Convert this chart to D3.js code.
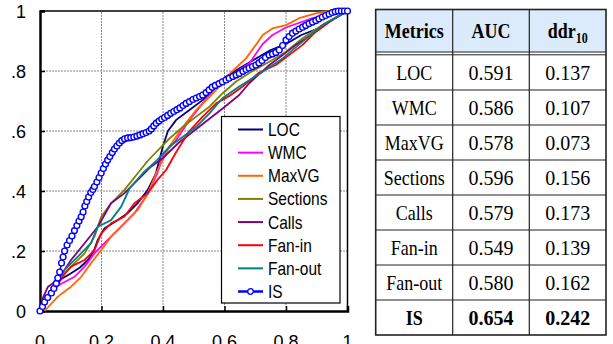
<!DOCTYPE html>
<html>
<head>
<meta charset="utf-8">
<script src="https://cdn.jsdelivr.net/npm/d3@7"></script>
<style>
  body { margin: 0; background: #fff; }
  svg { display: block; }
  .tick-label { font-family: "Liberation Sans", Arial, sans-serif; font-size: 18px; fill: #000; }
  .legend-text { font-family: "Liberation Sans", Arial, sans-serif; font-size: 15.5px; fill: #000; }
  .cell { font-family: "Liberation Serif", "Times New Roman", serif; font-size: 18px; fill: #000; }
</style>
</head>
<body>
<svg id="chart" width="613" height="344"></svg>
<script>
// tick labels
const xTicks = [0, 0.2, 0.4, 0.6, 0.8, 1];
const xTickLabels = ["0", "0.2", "0.4", "0.6", "0.8", "1"];
const yTicks = [0, 0.2, 0.4, 0.6, 0.8, 1];
const yTickLabels = ["0", ".2", ".4", ".6", ".8", "1"];

// series names and colours
const seriesNames = ["LOC", "WMC", "MaxVG", "Sections", "Calls", "Fan-in", "Fan-out", "IS"];
const seriesColors = ["#000080", "#ff00ff", "#ff6600", "#808000", "#800080", "#ff0000", "#008080", "#0000ff"];

// curves, [x, y]
const locPts = [[0,0],[0.032,0.059],[0.059,0.1],[0.101,0.126],[0.13,0.145],[0.156,0.17],[0.175,0.2],[0.188,0.237],[0.21,0.276],[0.253,0.303],[0.285,0.326],[0.318,0.36],[0.35,0.403],[0.377,0.459],[0.4,0.55],[0.416,0.6],[0.443,0.637],[0.486,0.67],[0.529,0.703],[0.573,0.748],[0.605,0.781],[0.65,0.81],[0.7,0.84],[0.75,0.87],[0.8,0.89],[0.85,0.92],[0.9,0.94],[0.95,0.97],[1,1]];
const wmcPts = [[0,0],[0.03,0.05],[0.058,0.085],[0.086,0.1],[0.112,0.114],[0.145,0.148],[0.177,0.192],[0.22,0.237],[0.264,0.281],[0.307,0.326],[0.35,0.39],[0.382,0.46],[0.4,0.52],[0.443,0.57],[0.486,0.637],[0.529,0.692],[0.573,0.748],[0.616,0.781],[0.681,0.826],[0.724,0.89],[0.756,0.92],[0.8,0.945],[0.886,0.976],[0.95,0.99],[1,1]];
const maxvgPts = [[0.015,0],[0.058,0.048],[0.101,0.081],[0.134,0.114],[0.166,0.159],[0.199,0.203],[0.231,0.248],[0.274,0.292],[0.318,0.337],[0.35,0.39],[0.378,0.46],[0.421,0.548],[0.465,0.614],[0.508,0.67],[0.551,0.714],[0.583,0.748],[0.616,0.79],[0.67,0.842],[0.702,0.887],[0.724,0.92],[0.756,0.942],[0.8,0.953],[0.843,0.976],[0.897,0.992],[0.94,1],[1,1]];
const sectionsPts = [[0,0],[0.03,0.06],[0.065,0.105],[0.101,0.148],[0.145,0.192],[0.177,0.248],[0.199,0.314],[0.231,0.359],[0.274,0.403],[0.318,0.459],[0.35,0.5],[0.378,0.53],[0.421,0.575],[0.465,0.614],[0.508,0.648],[0.551,0.681],[0.594,0.726],[0.638,0.765],[0.691,0.8],[0.746,0.831],[0.8,0.864],[0.854,0.909],[0.918,0.953],[1,1]];
const callsPts = [[0,0],[0.011,0.048],[0.026,0.081],[0.058,0.103],[0.101,0.17],[0.145,0.226],[0.188,0.281],[0.231,0.359],[0.274,0.392],[0.318,0.437],[0.361,0.481],[0.4,0.51],[0.45,0.56],[0.5,0.6],[0.55,0.64],[0.6,0.68],[0.648,0.72],[0.681,0.76],[0.746,0.82],[0.789,0.853],[0.832,0.887],[0.897,0.931],[0.95,0.97],[1,1]];
const faninPts = [[0,0],[0.022,0.037],[0.054,0.081],[0.08,0.125],[0.101,0.148],[0.145,0.17],[0.177,0.203],[0.199,0.259],[0.231,0.292],[0.274,0.314],[0.307,0.359],[0.35,0.392],[0.382,0.437],[0.41,0.47],[0.443,0.53],[0.486,0.6],[0.529,0.648],[0.573,0.692],[0.616,0.717],[0.659,0.748],[0.713,0.795],[0.767,0.82],[0.81,0.853],[0.854,0.887],[0.897,0.931],[0.94,0.964],[1,1]];
const fanoutPts = [[0,0],[0.03,0.06],[0.055,0.1],[0.08,0.137],[0.123,0.181],[0.166,0.226],[0.188,0.281],[0.231,0.303],[0.264,0.348],[0.292,0.41],[0.335,0.46],[0.378,0.5],[0.421,0.548],[0.465,0.581],[0.508,0.614],[0.551,0.659],[0.594,0.71],[0.648,0.748],[0.713,0.79],[0.789,0.842],[0.854,0.898],[0.918,0.953],[1,1]];
const isPts = [[0,0],[0.008,0.015],[0.015,0.03],[0.025,0.045],[0.037,0.06],[0.045,0.075],[0.053,0.092],[0.058,0.11],[0.064,0.13],[0.07,0.16],[0.075,0.18],[0.08,0.2],[0.088,0.22],[0.096,0.235],[0.104,0.25],[0.112,0.268],[0.12,0.285],[0.127,0.3],[0.134,0.314],[0.14,0.33],[0.146,0.35],[0.152,0.365],[0.158,0.38],[0.165,0.395],[0.172,0.405],[0.177,0.415],[0.185,0.43],[0.192,0.445],[0.199,0.46],[0.206,0.475],[0.213,0.49],[0.22,0.503],[0.227,0.515],[0.235,0.528],[0.242,0.54],[0.25,0.55],[0.258,0.56],[0.266,0.568],[0.275,0.574],[0.285,0.577],[0.295,0.578],[0.305,0.58],[0.315,0.583],[0.325,0.587],[0.335,0.591],[0.345,0.595],[0.355,0.6],[0.362,0.607],[0.37,0.617],[0.378,0.626],[0.387,0.633],[0.396,0.64],[0.405,0.645],[0.415,0.652],[0.425,0.659],[0.435,0.665],[0.445,0.671],[0.455,0.677],[0.465,0.685],[0.475,0.692],[0.486,0.698],[0.497,0.705],[0.508,0.71],[0.519,0.715],[0.529,0.72],[0.54,0.728],[0.55,0.737],[0.56,0.746],[0.57,0.752],[0.582,0.758],[0.593,0.764],[0.605,0.77],[0.615,0.776],[0.627,0.782],[0.638,0.787],[0.648,0.792],[0.66,0.799],[0.67,0.805],[0.68,0.81],[0.691,0.815],[0.702,0.82],[0.712,0.827],[0.722,0.835],[0.733,0.845],[0.745,0.853],[0.756,0.857],[0.767,0.862],[0.778,0.87],[0.789,0.885],[0.8,0.903],[0.81,0.915],[0.821,0.926],[0.832,0.933],[0.843,0.94],[0.854,0.946],[0.864,0.952],[0.875,0.958],[0.886,0.963],[0.897,0.968],[0.907,0.974],[0.918,0.98],[0.929,0.985],[0.94,0.99],[0.95,0.995],[0.96,0.998],[0.97,1],[0.98,1],[0.99,1],[1,1]];

// table values
const tableHeader = ["Metrics", "AUC", "ddr"];
const aucValues = ["0.591", "0.586", "0.578", "0.596", "0.579", "0.549", "0.580", "0.654"];
const ddrValues = ["0.137", "0.107", "0.073", "0.156", "0.173", "0.139", "0.162", "0.242"];

const curves = [locPts, wmcPts, maxvgPts, sectionsPts, callsPts, faninPts, fanoutPts];

const svg = d3.select("#chart");

const x = d3.scaleLinear().domain([0, 1]).range([40, 347.5]);
const y = d3.scaleLinear().domain([0, 1]).range([311, 11]);

const plot = svg.append("g");

// grid
plot.selectAll(".vgrid")
  .data(xTicks.slice(1, -1))
  .join("line")
  .attr("x1", d => x(d)).attr("x2", d => x(d))
  .attr("y1", y(0)).attr("y2", y(1))
  .attr("stroke", "#888").attr("stroke-dasharray", "2,1");

plot.selectAll(".hgrid")
  .data(yTicks.slice(1, -1))
  .join("line")
  .attr("x1", x(0)).attr("x2", x(1))
  .attr("y1", d => y(d)).attr("y2", d => y(d))
  .attr("stroke", "#888").attr("stroke-dasharray", "2,1");

// frame top/right
plot.append("line").attr("x1", x(0)).attr("x2", x(1)).attr("y1", y(1)).attr("y2", y(1))
  .attr("stroke", "#000").attr("stroke-width", 1.5);
plot.append("line").attr("x1", x(1)).attr("x2", x(1)).attr("y1", y(0)).attr("y2", y(1))
  .attr("stroke", "#000").attr("stroke-width", 1.5);

// axes
const yAxis = plot.append("g")
  .attr("transform", "translate(" + x(0) + ",0)")
  .call(d3.axisRight(y).tickValues(yTicks).tickSize(5).tickFormat(""));
const xAxis = plot.append("g")
  .attr("transform", "translate(0," + y(0) + ")")
  .call(d3.axisTop(x).tickValues(xTicks).tickSize(5).tickFormat(""));
[yAxis, xAxis].forEach(a => {
  a.select(".domain").attr("stroke", "#000").attr("stroke-width", 2.5);
  a.selectAll(".tick line").attr("stroke", "#000").attr("stroke-width", 1.5);
});

plot.selectAll(".ylab")
  .data(yTicks)
  .join("text")
  .attr("class", "tick-label")
  .attr("x", 26)
  .attr("y", d => y(d) + 6.5)
  .attr("text-anchor", "end")
  .text((d, i) => yTickLabels[i]);

plot.selectAll(".xlab")
  .data(xTicks)
  .join("text")
  .attr("class", "tick-label")
  .attr("x", d => x(d))
  .attr("y", 348)
  .attr("text-anchor", "middle")
  .text((d, i) => xTickLabels[i]);

// curves
const line = d3.line().x(d => x(d[0])).y(d => y(d[1]));

plot.selectAll(".curve")
  .data(curves)
  .join("path")
  .attr("class", "curve")
  .attr("d", line)
  .attr("fill", "none")
  .attr("stroke", (d, i) => seriesColors[i])
  .attr("stroke-width", 1.8)
  .attr("stroke-linejoin", "round");

plot.append("path")
  .attr("d", line(isPts))
  .attr("fill", "none")
  .attr("stroke", seriesColors[7])
  .attr("stroke-width", 1.5);

plot.selectAll(".is-dot")
  .data(isPts)
  .join("circle")
  .attr("cx", d => x(d[0]))
  .attr("cy", d => y(d[1]))
  .attr("r", 2.9)
  .attr("fill", "#fff")
  .attr("stroke", seriesColors[7])
  .attr("stroke-width", 1.4);

// legend
const legend = svg.append("g").attr("transform", "translate(221.5,116.5)");
legend.append("rect")
  .attr("width", 118.5).attr("height", 186.5)
  .attr("fill", "#fff").attr("stroke", "#000").attr("stroke-width", 1.2);

const legendRow = d3.scalePoint().domain(seriesNames).range([13, 175]);
const items = legend.selectAll(".item")
  .data(seriesNames)
  .join("g")
  .attr("transform", d => "translate(0," + legendRow(d) + ")");
items.append("line")
  .attr("x1", 16.5).attr("x2", 41.5)
  .attr("stroke", (d, i) => seriesColors[i])
  .attr("stroke-width", (d, i) => i === 7 ? 2.5 : 2);
items.filter(d => d === "IS").append("circle")
  .attr("cx", 29).attr("r", 2.8)
  .attr("fill", "#fff").attr("stroke", seriesColors[7]).attr("stroke-width", 1.3);
items.append("text")
  .attr("class", "legend-text")
  .attr("transform", "translate(46.5,6.5) scale(1,1.2)")
  .text(d => d);

// table
const colX = [375.7, 452.7, 529.3, 606];
const table = svg.append("g");
const rowY = d3.scaleBand().domain(seriesNames).range([55, 335]);
const colMid = i => (colX[i] + colX[i + 1]) / 2;

table.append("rect")
  .attr("x", colX[0]).attr("y", 9.5)
  .attr("width", colX[3] - colX[0]).attr("height", 42.5)
  .attr("fill", "#dcebfb");

// header text
const header = table.append("g").attr("class", "cell").style("font-weight", "bold");
[0, 1].forEach(i => {
  header.append("text")
    .attr("transform", "translate(" + colMid(i) + ",38) scale(1,1.15)")
    .attr("text-anchor", "middle")
    .text(tableHeader[i]);
});
const ddrText = header.append("text")
  .attr("transform", "translate(" + colMid(2) + ",38) scale(1,1.15)")
  .attr("text-anchor", "middle");
ddrText.append("tspan").text(tableHeader[2]);
ddrText.append("tspan").attr("dy", 4).style("font-size", "12px").text("10");

// body
const rows = table.selectAll(".row")
  .data(seriesNames)
  .join("g")
  .attr("class", "cell")
  .style("font-weight", d => d === "IS" ? "bold" : "normal")
  .attr("transform", d => "translate(0," + (rowY(d) + rowY.bandwidth() / 2 + 7) + ")");
rows.append("text")
  .attr("transform", "translate(" + colMid(0) + ",0) scale(1,1.15)")
  .attr("text-anchor", "middle")
  .text(d => d);
rows.append("text")
  .attr("transform", "translate(" + colMid(1) + ",0) scale(1,1.1)")
  .attr("text-anchor", "middle")
  .style("font-size", "20px")
  .text((d, i) => aucValues[i]);
rows.append("text")
  .attr("transform", "translate(" + colMid(2) + ",0) scale(1,1.1)")
  .attr("text-anchor", "middle")
  .style("font-size", "20px")
  .text((d, i) => ddrValues[i]);

// table lines
table.selectAll(".hline")
  .data(seriesNames.slice(1))
  .join("line")
  .attr("x1", colX[0]).attr("x2", colX[3])
  .attr("y1", d => rowY(d)).attr("y2", d => rowY(d))
  .attr("stroke", "#222").attr("stroke-width", 1.2);
[52, 54.8].forEach(v => {
  table.append("line")
    .attr("x1", colX[0]).attr("x2", colX[3])
    .attr("y1", v).attr("y2", v)
    .attr("stroke", "#222").attr("stroke-width", 1);
});
colX.slice(1, 3).forEach(v => {
  table.append("line")
    .attr("x1", v).attr("x2", v)
    .attr("y1", 9.5).attr("y2", 335)
    .attr("stroke", "#222").attr("stroke-width", 1.2);
});
table.append("rect")
  .attr("x", colX[0]).attr("y", 9.5)
  .attr("width", colX[3] - colX[0]).attr("height", 335 - 9.5)
  .attr("fill", "none").attr("stroke", "#222").attr("stroke-width", 1.6);
</script>
</body>
</html>
